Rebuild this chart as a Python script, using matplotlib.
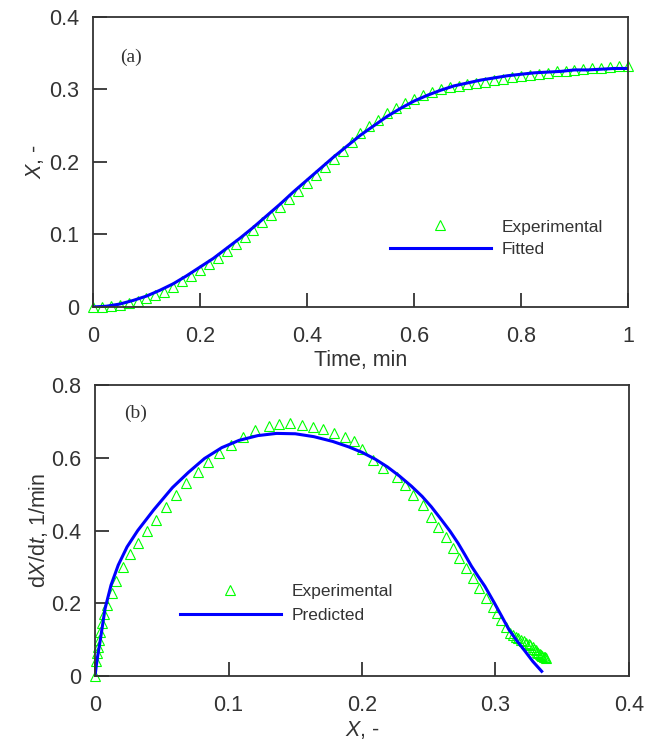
import matplotlib
matplotlib.use("Agg")
from matplotlib import pyplot as plt

plt.rcParams['font.family'] = ['Liberation Sans', 'DejaVu Sans']
plt.rcParams['mathtext.fontset'] = 'custom'
plt.rcParams['mathtext.rm'] = 'Liberation Sans'
plt.rcParams['mathtext.it'] = 'Liberation Sans:italic'

# (a) conversion vs time, measured every second
time_exp = [k / 60 for k in range(61)]
conv_exp = [0.000, 0.000, 0.001, 0.003, 0.005, 0.008, 0.012, 0.016, 0.021, 0.027,
            0.036, 0.043, 0.051, 0.059, 0.068, 0.077, 0.087, 0.096, 0.106, 0.117,
            0.127, 0.138, 0.149, 0.160, 0.171, 0.182, 0.193, 0.204, 0.215, 0.227,
            0.240, 0.249, 0.258, 0.267, 0.274, 0.281, 0.287, 0.292, 0.296, 0.300,
            0.303, 0.305, 0.307, 0.309, 0.311, 0.313, 0.315, 0.317, 0.319, 0.320,
            0.322, 0.323, 0.325, 0.326, 0.327, 0.328, 0.329, 0.330, 0.331, 0.332,
            0.333]

time_fit = [k * 0.025 for k in range(41)]
conv_fit = [0.000, 0.001, 0.004, 0.009, 0.015, 0.023, 0.032, 0.043, 0.055, 0.067,
            0.081, 0.095, 0.110, 0.126, 0.142, 0.159, 0.175, 0.191, 0.207, 0.222,
            0.237, 0.250, 0.263, 0.274, 0.284, 0.292, 0.299, 0.305, 0.309, 0.313,
            0.316, 0.319, 0.321, 0.323, 0.324, 0.325, 0.327, 0.327, 0.328, 0.329,
            0.329]

# (b) rate vs conversion
x_exp = [0.000, 0.001, 0.0015, 0.002, 0.003, 0.004, 0.005, 0.007, 0.009, 0.0125,
         0.016, 0.021, 0.026, 0.032, 0.039, 0.046, 0.0535, 0.061, 0.068, 0.077,
         0.085, 0.093, 0.102, 0.111, 0.120, 0.130, 0.138, 0.146, 0.155, 0.163,
         0.171, 0.179, 0.187, 0.194, 0.200, 0.208, 0.216, 0.226, 0.232, 0.238,
         0.2455, 0.2515, 0.257, 0.263, 0.268, 0.273, 0.278, 0.283, 0.288, 0.293,
         0.298, 0.301, 0.304, 0.308, 0.311, 0.313, 0.315, 0.317, 0.319, 0.321,
         0.323, 0.325, 0.326, 0.328, 0.329, 0.330, 0.331, 0.332, 0.333, 0.334,
         0.335, 0.336, 0.337, 0.338]
rate_exp = [0.000, 0.040, 0.062, 0.080, 0.100, 0.122, 0.146, 0.170, 0.196, 0.228,
            0.262, 0.300, 0.335, 0.366, 0.398, 0.430, 0.465, 0.498, 0.530, 0.560,
            0.588, 0.613, 0.635, 0.657, 0.675, 0.688, 0.694, 0.695, 0.691, 0.685,
            0.678, 0.668, 0.657, 0.645, 0.625, 0.593, 0.571, 0.548, 0.525, 0.497,
            0.470, 0.438, 0.410, 0.383, 0.352, 0.324, 0.297, 0.270, 0.242, 0.214,
            0.190, 0.173, 0.154, 0.135, 0.117, 0.112, 0.108, 0.104, 0.100, 0.096,
            0.092, 0.088, 0.084, 0.079, 0.075, 0.071, 0.067, 0.064, 0.061, 0.058,
            0.055, 0.053, 0.051, 0.050]

x_pred = [0.000, 0.001, 0.002, 0.004, 0.0075, 0.012, 0.0174, 0.024, 0.032, 0.044,
          0.058, 0.070, 0.082, 0.095, 0.108, 0.122, 0.136, 0.150, 0.164, 0.178,
          0.190, 0.200, 0.210, 0.219, 0.228, 0.237, 0.245, 0.252, 0.259, 0.266,
          0.272, 0.277, 0.282, 0.287, 0.292, 0.299, 0.305, 0.310, 0.316, 0.322,
          0.328, 0.3346]
rate_pred = [0.000, 0.030, 0.055, 0.100, 0.185, 0.250, 0.305, 0.355, 0.400, 0.457,
             0.518, 0.560, 0.598, 0.628, 0.648, 0.661, 0.667, 0.666, 0.658, 0.645,
             0.630, 0.615, 0.596, 0.575, 0.550, 0.522, 0.494, 0.465, 0.432, 0.398,
             0.365, 0.334, 0.302, 0.274, 0.247, 0.202, 0.162, 0.128, 0.097, 0.069,
             0.040, 0.013]

GREEN = '#00ff00'
BLUE = '#0000ff'
DARK = '#333333'
FS = 15.5

fig = plt.figure(figsize=(6.58, 7.42), dpi=100)
ax1 = fig.add_axes([0.1413, 0.5863, 0.8131, 0.3908])
ax2 = fig.add_axes([0.1444, 0.0889, 0.8115, 0.3922])


def style(ax):
    for s in ax.spines.values():
        s.set_color(DARK)
        s.set_linewidth(1.3)
    ax.tick_params(direction='in', length=10, width=1.3, color=DARK,
                   labelsize=FS, labelcolor=DARK, pad=10,
                   top=False, right=False)
    ax.tick_params(axis='x', pad=14)


ax1.plot(time_exp, conv_exp, linestyle='none', marker='^', ms=7.5,
         mfc='none', mec=GREEN, mew=0.8, label='Experimental', clip_on=False)
ax1.plot(time_fit, conv_fit, color=BLUE, lw=2.2, label='Fitted')
ax1.set_xlim(0, 1)
ax1.set_ylim(0, 0.4)
ax1.set_xticks([0, 0.2, 0.4, 0.6, 0.8, 1])
ax1.set_xticklabels(['0', '0.2', '0.4', '0.6', '0.8', '1'])
ax1.set_yticks([0, 0.1, 0.2, 0.3, 0.4])
ax1.set_yticklabels(['0', '0.1', '0.2', '0.3', '0.4'])
ax1.set_xlabel('Time, min', fontsize=FS, color=DARK, labelpad=2)
ax1.set_ylabel('$X$, -', fontsize=FS, color=DARK, labelpad=2)
ax1.text(0.071, 0.345, '(a)', family='Liberation Serif', fontsize=14, color=DARK,
         ha='center', va='center')
style(ax1)
ax1.legend(loc='upper left', bbox_to_anchor=(0.555, 0.302), frameon=False,
           numpoints=1, handlelength=5.8, handletextpad=0.65, borderpad=0,
           borderaxespad=0, labelspacing=0.42, fontsize=12.5, labelcolor=DARK)

ax2.plot(x_exp, rate_exp, linestyle='none', marker='^', ms=7.5,
         mfc='none', mec=GREEN, mew=0.8, label='Experimental', clip_on=False)
ax2.plot(x_pred, rate_pred, color=BLUE, lw=2.2, label='Predicted')
ax2.set_xlim(0, 0.4)
ax2.set_ylim(0, 0.8)
ax2.set_xticks([0, 0.1, 0.2, 0.3, 0.4])
ax2.set_xticklabels(['0', '0.1', '0.2', '0.3', '0.4'])
ax2.set_yticks([0, 0.2, 0.4, 0.6, 0.8])
ax2.set_yticklabels(['0', '0.2', '0.4', '0.6', '0.8'])
ax2.set_xlabel('$X$, -', fontsize=FS, color=DARK, labelpad=2)
ax2.set_ylabel('d$X$/d$t$, 1/min', fontsize=FS, color=DARK, labelpad=1)
ax2.text(0.030, 0.722, '(b)', family='Liberation Serif', fontsize=14, color=DARK,
         ha='center', va='center')
style(ax2)
ax2.legend(loc='upper left', bbox_to_anchor=(0.159, 0.316), frameon=False,
           numpoints=1, handlelength=5.8, handletextpad=0.65, borderpad=0,
           borderaxespad=0, labelspacing=0.5, fontsize=12.5, labelcolor=DARK)

fig.savefig('out.png', dpi=100)
